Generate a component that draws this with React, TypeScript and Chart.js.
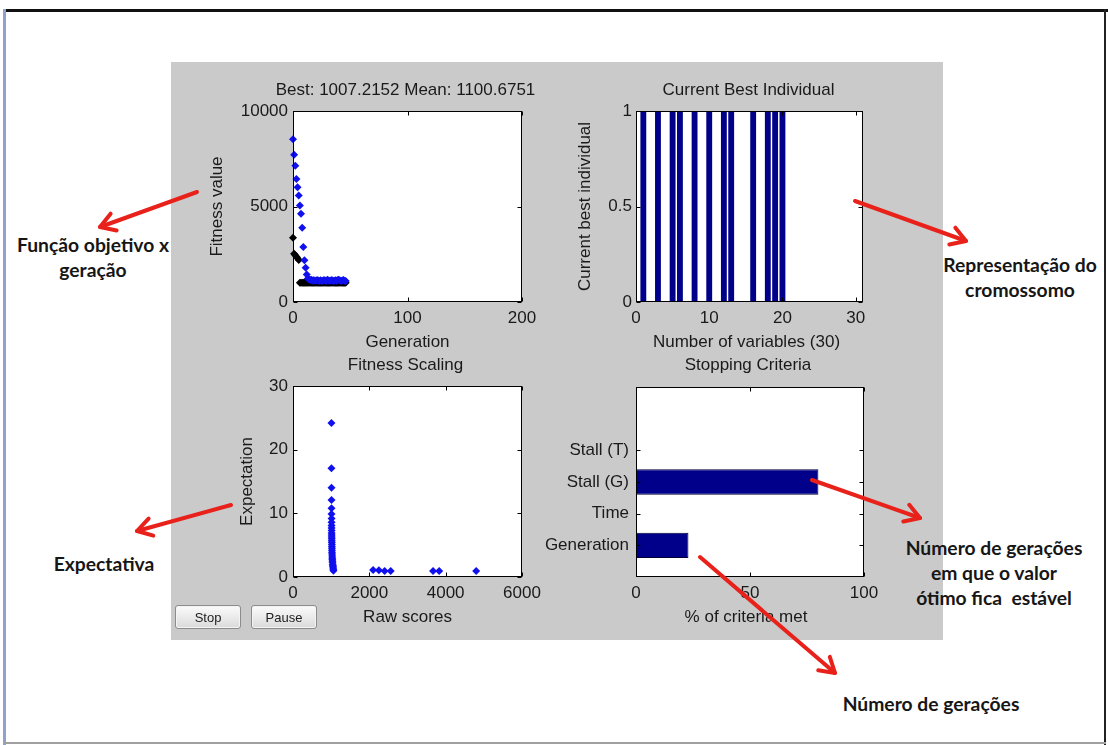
import React, { useEffect, useRef } from 'react';
import { Chart, registerables } from 'chart.js';
Chart.register(...registerables);

const FONT = '"Liberation Sans", Arial, Helvetica, sans-serif';
const NOTE_FONT = 'Lato, "Open Sans", sans-serif';
const TEXT = '#1a1a1a';

// ---- Plot 1: fitness value vs generation ----
const MEAN_FITNESS = [8526, 7708, 7135, 6440, 6007, 5573, 5052, 4618, 3889, 2882, 2188, 1788, 1441, 1233, 1185, 1152, 1168, 1124, 1141, 1132, 1110, 1156, 1121, 1104, 1133, 1098, 1117, 1146, 1122, 1106, 1163, 1131, 1112, 1127, 1154, 1103, 1119, 1138, 1109, 1148, 1160, 1121, 1105, 1132, 1151, 1114, 1100.7];
const BEST_FITNESS = [3370, 2530, 2450, 2370, 2290, 2200, 1007.2, 1007.2, 1007.2, 1007.2, 1007.2, 1007.2, 1007.2, 1007.2, 1007.2, 1007.2, 1007.2, 1007.2, 1007.2, 1007.2, 1007.2, 1007.2, 1007.2, 1007.2, 1007.2, 1007.2, 1007.2, 1007.2, 1007.2, 1007.2, 1007.2, 1007.2, 1007.2, 1007.2, 1007.2, 1007.2, 1007.2, 1007.2, 1007.2, 1007.2, 1007.2, 1007.2, 1007.2, 1007.2, 1007.2, 1007.2, 1007.2];
const GENERATION_TICKS = [0, 100, 200];
const FITNESS_TICKS = [0, 5000, 10000];
const FITNESS_TITLE = 'Best: 1007.2152 Mean: 1100.6751';

// ---- Plot 2: current best individual ----
const VARIABLE_INDEX = [1, 2, 3, 4, 5, 6, 7, 8, 9, 10, 11, 12, 13, 14, 15, 16, 17, 18, 19, 20, 21, 22, 23, 24, 25, 26, 27, 28, 29, 30];
const BEST_INDIVIDUAL = [1, 0, 1, 0, 1, 1, 0, 1, 0, 1, 0, 1, 1, 0, 0, 1, 0, 1, 1, 1, 0, 0, 0, 0, 0, 0, 0, 0, 0, 0];
const VARIABLE_TICKS = [0, 10, 20, 30];
const INDIVIDUAL_TICKS = [0, 0.5, 1];

// ---- Plot 3: fitness scaling ----
const RAW_SCORES = [1007, 1007, 1008, 1008, 1009, 1009, 1010, 1010, 1011, 1011, 1012, 1012, 1013, 1014, 1015, 1016, 1017, 1018, 1019, 1020, 1021, 1022, 1024, 1026, 1028, 1030, 1033, 1036, 1040, 1044, 1048, 1052, 1056, 1060, 2100, 2250, 2400, 2560, 3670, 3830, 4800];
const EXPECTATION = [24.2, 17.1, 14.0, 12.1, 10.8, 9.9, 9.2, 8.6, 8.1, 7.7, 7.3, 6.9, 6.6, 6.3, 6.0, 5.7, 5.4, 5.1, 4.8, 4.5, 4.2, 3.9, 3.6, 3.3, 3.0, 2.8, 2.5, 2.3, 2.0, 1.8, 1.6, 1.4, 1.2, 1.0, 1.1, 1.05, 0.95, 0.95, 0.95, 0.95, 0.95];
const RAW_TICKS = [0, 2000, 4000, 6000];
const EXPECT_TICKS = [0, 10, 20, 30];

// ---- Plot 4: stopping criteria ----
const CRITERIA = ['Stall (T)', 'Stall (G)', 'Time', 'Generation'];
const CRITERIA_POS = [4, 3, 2, 1];
const CRITERIA_MET = [0, 80, 0, 23];
const PERCENT_TICKS = [0, 50, 100];

type Box = { l: number; t: number; r: number; b: number };

const matlabPlugin = {
  id: 'matlabAxes',
  beforeDraw(chart: any) {
    const { ctx, chartArea: a } = chart;
    ctx.save();
    ctx.fillStyle = '#ffffff';
    ctx.fillRect(a.left, a.top, a.right - a.left, a.bottom - a.top);
    ctx.restore();
  },
  afterDatasetsDraw(chart: any) {
    const { ctx, chartArea: a, scales } = chart;
    ctx.save();
    ctx.strokeStyle = '#000000';
    ctx.lineWidth = 1;
    const L = Math.round(a.left) + 0.5, R = Math.round(a.right) - 0.5;
    const T = Math.round(a.top) + 0.5, B = Math.round(a.bottom) - 0.5;
    ctx.strokeRect(L, T, R - L, B - T);
    const tl = 4;
    ctx.beginPath();
    scales.x.ticks.forEach((t: any) => {
      const p = Math.round(scales.x.getPixelForValue(t.value)) + 0.5;
      ctx.moveTo(p, B); ctx.lineTo(p, B - tl);
      ctx.moveTo(p, T); ctx.lineTo(p, T + tl);
    });
    scales.y.ticks.forEach((t: any) => {
      const p = Math.round(scales.y.getPixelForValue(t.value)) + 0.5;
      ctx.moveTo(L, p); ctx.lineTo(L + tl, p);
      ctx.moveTo(R, p); ctx.lineTo(R - tl, p);
    });
    ctx.stroke();
    ctx.restore();
  },
  afterDraw(chart: any, _args: any, o: any) {
    const { ctx, chartArea: a } = chart;
    const cx = (a.left + a.right) / 2, cy = (a.top + a.bottom) / 2;
    ctx.save();
    ctx.font = `17px ${FONT}`;
    ctx.fillStyle = TEXT;
    ctx.textAlign = 'center';
    ctx.textBaseline = 'middle';
    if (o.title) ctx.fillText(o.title, cx + (o.titleDx || 0), a.top + o.titleDy);
    if (o.xlabel) ctx.fillText(o.xlabel, cx + (o.xlabelDx || 0), a.bottom + o.xlabelDy);
    if (o.ylabel) {
      ctx.translate(a.left + o.ylabelDx, cy);
      ctx.rotate(-Math.PI / 2);
      ctx.fillText(o.ylabel, 0, 0);
    }
    ctx.restore();
  },
};

function axis(ticks: number[], min: number, max: number, pad: number, fmt?: (v: number) => string) {
  return {
    type: 'linear',
    min,
    max,
    offset: false,
    grid: { display: false, drawTicks: false, offset: false },
    border: { display: false },
    afterBuildTicks: (s: any) => { s.ticks = ticks.map((v) => ({ value: v })); },
    ticks: {
      autoSkip: false,
      maxRotation: 0,
      padding: pad,
      color: TEXT,
      font: { family: FONT, size: 17 },
      callback: (v: any) => (fmt ? fmt(v) : String(v)),
    },
  };
}

function baseOptions(cb: Box, area: Box, xs: any, ys: any, labels: any, extra: any = {}) {
  return {
    responsive: false,
    animation: false,
    devicePixelRatio: 1,
    events: [],
    layout: { padding: { top: area.t - cb.t, right: cb.r - area.r, left: 0, bottom: 0 } },
    plugins: {
      legend: { display: false },
      tooltip: { enabled: false },
      title: { display: false },
      matlabAxes: labels,
    },
    scales: {
      x: { ...xs, position: 'bottom', afterFit: (s: any) => { s.height = cb.b - area.b; } },
      y: { ...ys, position: 'left', afterFit: (s: any) => { s.width = area.l - cb.l; } },
    },
    ...extra,
  };
}

const PT = { pointStyle: 'rectRot', pointRadius: 4, borderWidth: 0, clip: false };

function fitnessConfig(cb: Box, area: Box) {
  return {
    type: 'scatter',
    data: {
      datasets: [
        { data: MEAN_FITNESS.map((v, i) => ({ x: i, y: v })), backgroundColor: '#1010ee', ...PT },
        { data: BEST_FITNESS.map((v, i) => ({ x: i, y: v })), backgroundColor: '#000000', ...PT },
      ],
    },
    options: baseOptions(cb, area, axis(GENERATION_TICKS, 0, 200, 6), axis(FITNESS_TICKS, 0, 10000, 5),
      { title: FITNESS_TITLE, titleDx: -2, titleDy: -21, xlabel: 'Generation', xlabelDy: 40, ylabel: 'Fitness value', ylabelDx: -76 }),
    plugins: [matlabPlugin],
  };
}

function individualConfig(cb: Box, area: Box) {
  return {
    type: 'bar',
    data: {
      datasets: [{
        data: VARIABLE_INDEX.map((x, i) => ({ x, y: BEST_INDIVIDUAL[i] })),
        backgroundColor: '#00008a',
        borderWidth: 0,
        barPercentage: 0.8,
        categoryPercentage: 1,
      }],
    },
    options: baseOptions(cb, area, axis(VARIABLE_TICKS, 0, 31, 6), axis(INDIVIDUAL_TICKS, 0, 1, 4),
      { title: 'Current Best Individual', titleDx: -1, titleDy: -21, xlabel: 'Number of variables (30)', xlabelDx: -3, xlabelDy: 40, ylabel: 'Current best individual', ylabelDx: -51 }),
    plugins: [matlabPlugin],
  };
}

function scalingConfig(cb: Box, area: Box) {
  return {
    type: 'scatter',
    data: {
      datasets: [{ data: RAW_SCORES.map((x, i) => ({ x, y: EXPECTATION[i] })), backgroundColor: '#1010ee', ...PT }],
    },
    options: baseOptions(cb, area, axis(RAW_TICKS, 0, 6000, 6), axis(EXPECT_TICKS, 0, 30, 5),
      { title: 'Fitness Scaling', titleDx: -2, titleDy: -21, xlabel: 'Raw scores', xlabelDy: 40, ylabel: 'Expectation', ylabelDx: -46 }),
    plugins: [matlabPlugin],
  };
}

function stoppingConfig(cb: Box, area: Box) {
  const opts: any = baseOptions(cb, area, axis(PERCENT_TICKS, 0, 100, 6),
    axis([...CRITERIA_POS].sort((a, b) => a - b), 0, 6, 7, (v) => CRITERIA[CRITERIA_POS.indexOf(v)]),
    { title: 'Stopping Criteria', titleDx: -2, titleDy: -22, xlabel: '% of criteria met', xlabelDx: -4, xlabelDy: 40 });
  opts.indexAxis = 'y';
  return {
    type: 'bar',
    data: {
      datasets: [{
        data: CRITERIA_POS.map((y, i) => ({ x: CRITERIA_MET[i], y })),
        backgroundColor: '#00008a',
        borderColor: '#000033',
        borderWidth: (c: any) => (c.raw && c.raw.x > 0 ? 1 : 0),
        borderSkipped: false,
        barPercentage: 0.8,
        categoryPercentage: 1,
      }],
    },
    options: opts,
    plugins: [matlabPlugin],
  };
}

function Subplot({ cb, area, build }: { cb: Box; area: Box; build: (cb: Box, area: Box) => any }) {
  const ref = useRef<HTMLCanvasElement>(null);
  useEffect(() => {
    const chart = new Chart(ref.current as HTMLCanvasElement, build(cb, area) as any);
    return () => chart.destroy();
  }, []);
  const w = cb.r - cb.l, h = cb.b - cb.t;
  return (
    <canvas ref={ref} width={w} height={h}
      style={{ position: 'absolute', left: cb.l, top: cb.t, width: w, height: h, zIndex: 1 }} />
  );
}

function Arrow({ x1, y1, x2, y2 }: { x1: number; y1: number; x2: number; y2: number }) {
  const ang = Math.atan2(y2 - y1, x2 - x1);
  const L = 17, sp = 0.55;
  const a = [x2 - L * Math.cos(ang - sp), y2 - L * Math.sin(ang - sp)];
  const b = [x2 - L * Math.cos(ang + sp), y2 - L * Math.sin(ang + sp)];
  return (
    <g stroke="#e8221b" strokeWidth={4} strokeLinecap="round" strokeLinejoin="round" fill="none">
      <line x1={x1} y1={y1} x2={x2} y2={y2} />
      <polyline points={`${a[0]},${a[1]} ${x2},${y2} ${b[0]},${b[1]}`} />
    </g>
  );
}

function Note({ x, y, lines }: { x: number; y: number; lines: string[] }) {
  return (
    <div style={{
      position: 'absolute', left: x, top: y, transform: 'translate(-50%, -50%)', zIndex: 2,
      fontFamily: NOTE_FONT, fontWeight: 700, fontSize: 19.3, lineHeight: '25px', color: '#161616',
      textAlign: 'center', whiteSpace: 'pre',
    }}>
      {lines.map((l, i) => <div key={i}>{l}</div>)}
    </div>
  );
}

const btnStyle: React.CSSProperties = {
  position: 'absolute', top: 605, width: 66, height: 24, zIndex: 2,
  border: '1px solid #8c8c8c', borderRadius: 3,
  background: 'linear-gradient(#fbfbfb, #dadada)',
  fontFamily: FONT, fontSize: 13, color: '#222', padding: 0,
  boxShadow: 'inset 0 0 0 1px #f4f4f4',
};

export default function App() {
  return (
    <div style={{ position: 'absolute', left: 0, top: 0, width: 1108, height: 745, background: '#ffffff', overflow: 'hidden' }}>
      <div style={{ position: 'absolute', left: 3, top: 9, width: 1105, height: 3, background: '#111' }} />
      <div style={{ position: 'absolute', left: 3, top: 9, width: 3, height: 736, background: '#8ea3c9' }} />
      <div style={{ position: 'absolute', left: 1104, top: 9, width: 2, height: 736, background: '#222' }} />
      <div style={{ position: 'absolute', left: 3, top: 742, width: 1103, height: 2, background: '#a0a0a0' }} />

      <div style={{ position: 'absolute', left: 171, top: 62, width: 772, height: 578, background: '#cacaca' }} />

      <Subplot cb={{ l: 190, t: 78, r: 550, b: 358 }} area={{ l: 293, t: 111, r: 522, b: 302 }} build={fitnessConfig} />
      <Subplot cb={{ l: 560, t: 78, r: 890, b: 358 }} area={{ l: 636, t: 111, r: 863, b: 302 }} build={individualConfig} />
      <Subplot cb={{ l: 190, t: 353, r: 550, b: 633 }} area={{ l: 293, t: 386, r: 522, b: 577 }} build={scalingConfig} />
      <Subplot cb={{ l: 520, t: 353, r: 895, b: 633 }} area={{ l: 636, t: 387, r: 864, b: 577 }} build={stoppingConfig} />

      <button style={{ ...btnStyle, left: 175 }}>Stop</button>
      <button style={{ ...btnStyle, left: 251 }}>Pause</button>

      <Note x={93} y={257} lines={['Função objetivo x', 'geração']} />
      <Note x={1020} y={277} lines={['Representação do', 'cromossomo']} />
      <Note x={104} y={563} lines={['Expectativa']} />
      <Note x={994} y={572} lines={['Número de gerações', 'em que o valor', 'ótimo fica  estável']} />
      <Note x={931} y={703} lines={['Número de gerações']} />

      <svg width={1108} height={745} style={{ position: 'absolute', left: 0, top: 0, zIndex: 3, pointerEvents: 'none' }}>
        <Arrow x1={197} y1={192} x2={100} y2={227} />
        <Arrow x1={855} y1={201} x2={966} y2={241} />
        <Arrow x1={231} y1={505} x2={137} y2={531} />
        <Arrow x1={812} y1={480} x2={920} y2={518} />
        <Arrow x1={700} y1={557} x2={835} y2={673} />
      </svg>
    </div>
  );
}
